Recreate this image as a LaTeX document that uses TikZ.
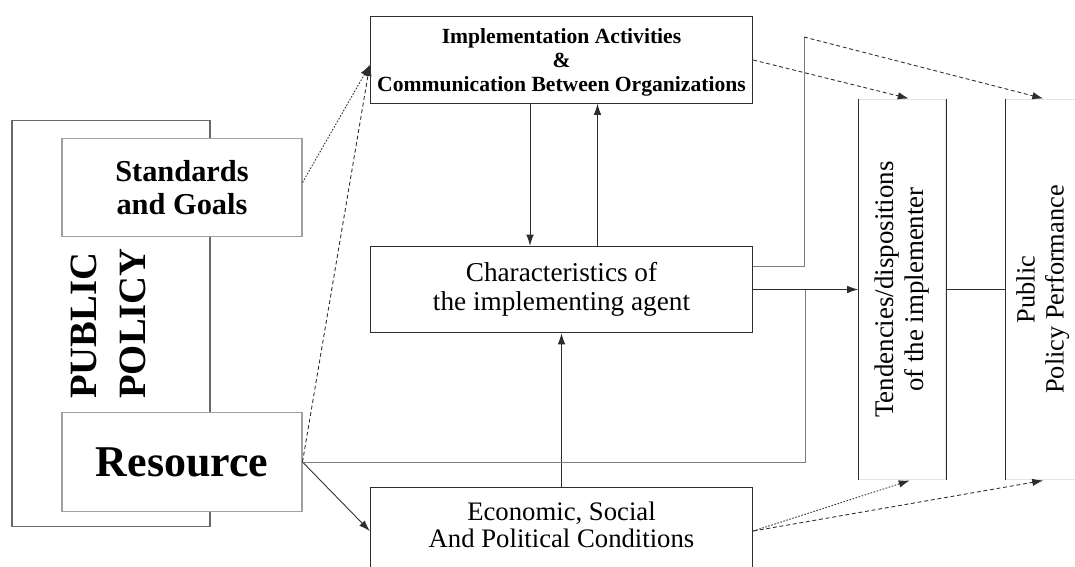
\documentclass[tikz,border=0pt]{standalone}
\usepackage{fontspec}
\setmainfont{Liberation Serif}
\usepackage{xcolor}
\definecolor{inkdark}{RGB}{45, 45, 45}
\definecolor{linegray}{RGB}{125, 125, 125}
\definecolor{outergray}{RGB}{105, 105, 105}
\definecolor{framegray}{RGB}{160, 160, 160}
\definecolor{paleedge}{RGB}{228, 228, 228}
\usepackage{tikz}
\usetikzlibrary{positioning, arrows.meta, calc}

\begin{document}
\begin{tikzpicture}[x=0.02cm, y=-0.02cm,
    box/.style={draw=inkdark, fill=white, line width=0.6pt, align=center,
                minimum width=7.65cm, minimum height=1.73cm},
    sidebox/.style={draw=framegray, fill=white, line width=0.6pt, align=center,
                    minimum width=4.8cm, minimum height=1.97cm},
    tallbox/.style={draw=paleedge, fill=white, line width=0.6pt,
                    minimum height=7.62cm, inner sep=0pt},
    flow/.style={-{Latex[length=2.2mm,width=1.5mm]}, line width=0.5pt, color=inkdark},
    dashflow/.style={flow, dash pattern=on 2.2pt off 1.6pt},
    dotflow/.style={flow, dash pattern=on 0.9pt off 0.9pt},
    link/.style={line width=0.5pt, color=linegray}]

  \useasboundingbox (0,0) rectangle (1075,567);
  \clip (0,0) rectangle (1075,567);

  % policy column
  \node[draw=outergray, line width=0.6pt, minimum width=3.96cm, minimum height=8.14cm,
        font=\fontsize{22}{28}\selectfont\bfseries]
       (policy) at (111,323.5)
       {\rotatebox{90}{\begin{tabular}{@{}l@{}}PUBLIC\\POLICY\end{tabular}}};
  \node[sidebox, font=\fontsize{17.3}{19}\selectfont\bfseries]
       (std) at (182,187.5) {Standards\\and Goals};
  \node[sidebox, font=\fontsize{25}{28}\selectfont\bfseries]
       (res) at (182,462) {Resource};

  % middle column
  \node[box, text depth=0pt, font=\fontsize{12.3}{13.5}\selectfont\bfseries]
       (impl) at (561.5,60)
       {Implementation Activities\\\&\\Communication Between Organizations};
  \node[box, below=2.84cm of impl, font=\fontsize{15.5}{16.5}\selectfont]
       (char) {Characteristics of\\the implementing agent};
  \node[box, below=3.08cm of char, text depth=0.25cm,
        font=\fontsize{15.2}{15.5}\selectfont]
       (econ) {Economic, Social\\And Political Conditions};

  % right column
  \node[tallbox, right=2.1cm of char, minimum width=1.74cm,
        font=\fontsize{15.3}{17.5}\selectfont]
       (tend) {\rotatebox{90}{\begin{tabular}{@{}c@{}}Tendencies/dispositions\\of the implementer\end{tabular}}};
  \node[tallbox, right=1.18cm of tend, minimum width=1.5cm,
        font=\fontsize{15}{16.5}\selectfont]
       (perf) {\rotatebox{90}{\begin{tabular}{@{}c@{}}Public\\Policy Performance\end{tabular}}};
  \draw[inkdark, line width=0.6pt] (tend.north west) -- (tend.south west)
        (tend.north east) -- (tend.south east)
        (perf.north west) -- (perf.south west);

  % connectors
  \draw[dotflow] ([yshift=0.1cm]std.east) -- ([yshift=-0.1cm]impl.west);
  \draw[dashflow] (res.east) -- ([yshift=-0.1cm]impl.west);
  \draw[flow] (res.east) -- (econ.west);
  \draw[flow] ([xshift=-0.63cm]impl.south) -- ([xshift=-0.63cm]char.north);
  \draw[flow] ([xshift=0.72cm]char.north) -- ([xshift=0.72cm]impl.south);
  \draw[flow] (econ.north) -- (char.south);
  \draw[flow] (char.east) -- (tend.west);
  \draw[link] (res.east) -| ($(char.east)!0.5!(tend.west)$);
  \coordinate (bend) at (804,37);
  \draw[link] ([yshift=0.46cm]char.east) -| (bend);
  \draw[dashflow] (bend) -- (perf.north);
  \draw[dashflow] (impl.east) -- ([xshift=0.13cm]tend.north);
  \draw[dotflow] (econ.east) -- ([xshift=0.15cm]tend.south);
  \draw[dashflow] (econ.east) -- (perf.south);
  \draw[inkdark, line width=0.6pt] (tend.east) -- (perf.west);
\end{tikzpicture}
\end{document}
